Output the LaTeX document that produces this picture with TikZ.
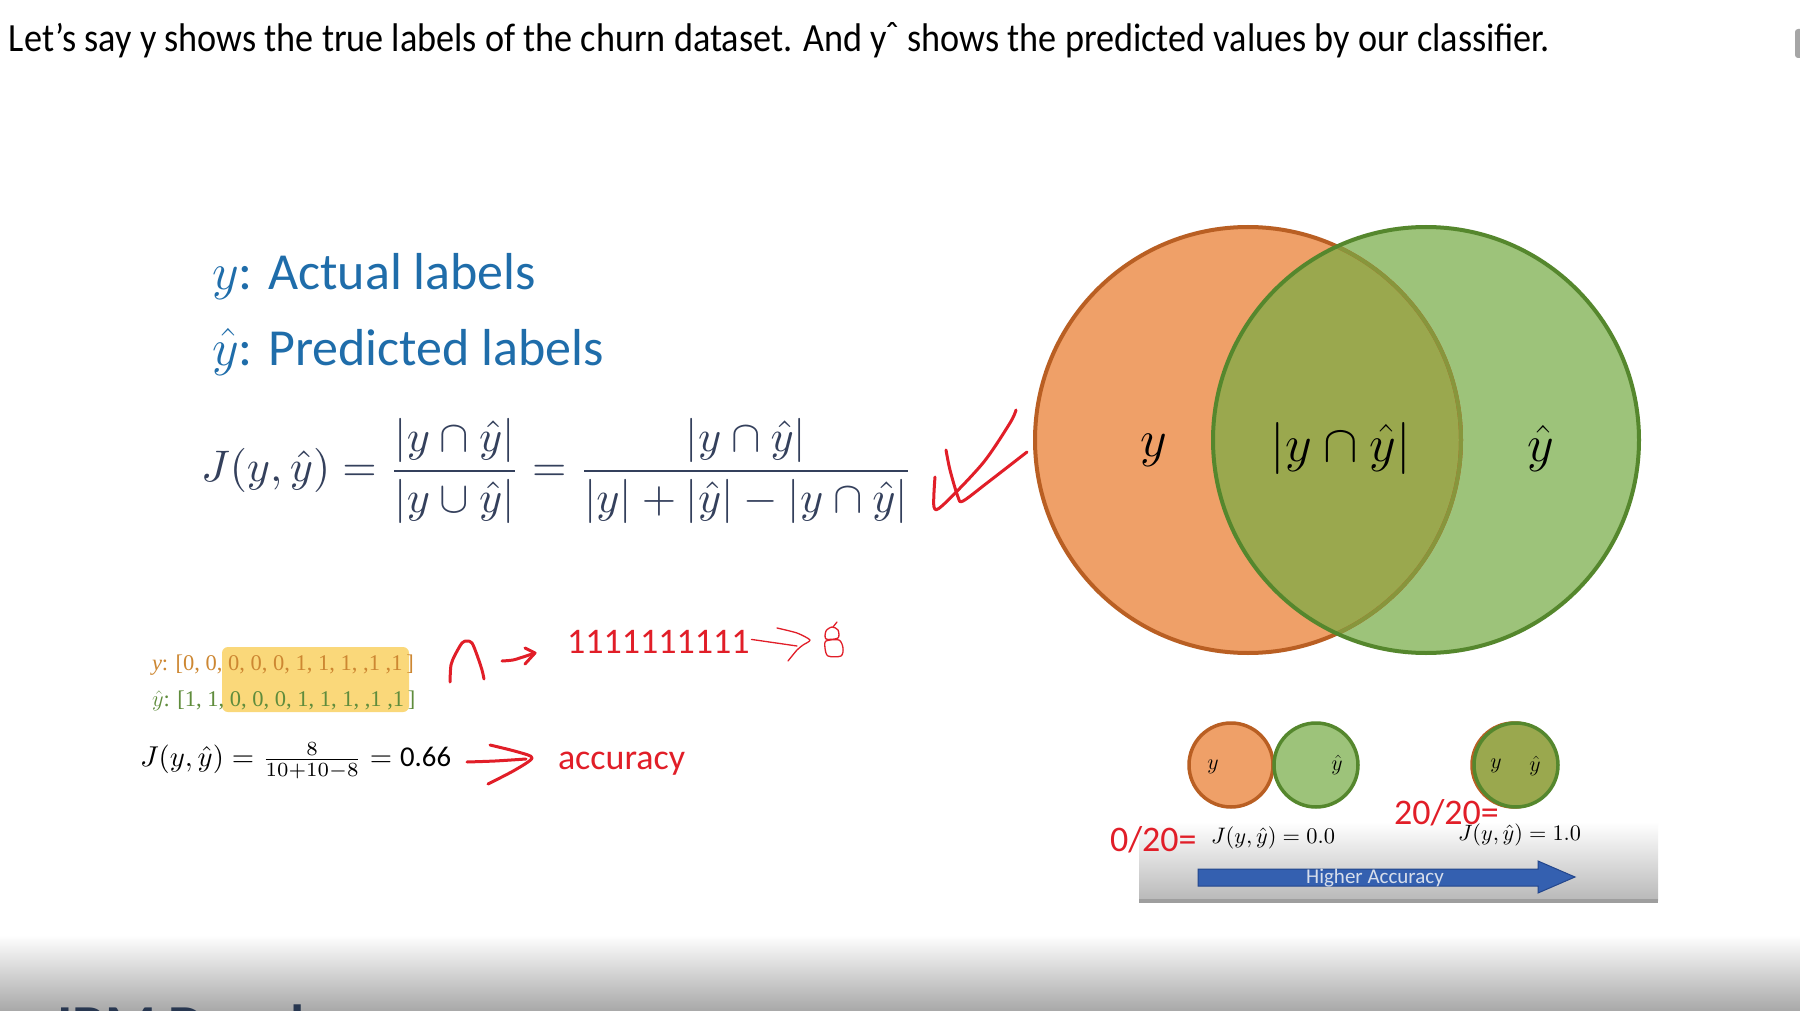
\RequirePackage{fix-cm}
\documentclass[tikz,border=0pt]{standalone}
\usepackage{fontspec}
\setmainfont{Carlito}
\newfontfamily\listfont{Liberation Serif}
\usepackage{graphicx}
\definecolor{ttlblue}{RGB}{31,109,170}
\definecolor{fmla}{RGB}{52,64,92}
\definecolor{redink}{RGB}{225,30,40}
\definecolor{orfill}{RGB}{239,160,104}
\definecolor{orline}{RGB}{185,95,35}
\definecolor{grfill}{RGB}{157,195,122}
\definecolor{grline}{RGB}{85,135,45}
\definecolor{lensfill}{RGB}{154,168,78}
\definecolor{lensline}{RGB}{135,150,60}
\definecolor{hilite}{RGB}{250,216,122}
\definecolor{ylist}{RGB}{205,135,50}
\definecolor{yhlist}{RGB}{95,140,60}
\definecolor{barblue}{RGB}{52,96,176}
\definecolor{barline}{RGB}{35,70,140}
\definecolor{bartext}{RGB}{215,222,235}
\definecolor{ibmtext}{RGB}{40,55,80}
\definecolor{pagegray}{RGB}{168,168,168}
\definecolor{boxgray}{RGB}{185,185,185}
\definecolor{boxedge}{RGB}{158,158,158}
\begin{document}
\begin{tikzpicture}[x=1pt,y=-1pt,
  ink/.style={draw=redink, line width=3pt, line cap=round, line join=round},
  thinink/.style={draw=redink, line width=1.3pt, line cap=round, line join=round},
  txt/.style={inner sep=0pt, outer sep=0pt},
  venntxt/.style={txt, font=\fontsize{52}{60}\selectfont},
  smalltxt/.style={txt, font=\fontsize{22}{26}\selectfont},
  redtxt/.style={txt, text=redink, font=\fontsize{36}{42}\selectfont},
  listtxt/.style={txt, anchor=base west, font=\listfont\fontsize{22.5}{26}\selectfont}]
\useasboundingbox (0,0) rectangle (1800,1011);
\fill[white] (0,0) rectangle (1800,1011);
% bottom page gradient
\shade[top color=white, bottom color=pagegray] (0,935) rectangle (1800,1011);
\begin{scope}
\clip (0,935) rectangle (1800,1011);
\node[txt, anchor=north west, text=ibmtext, font=\fontsize{58}{66}\selectfont\bfseries] (ibm) at (57,1005) {IBM Developer};
\end{scope}
% scrollbar stub
\fill[gray!70, rounded corners=3pt] (1795,29) rectangle (1806,58);
% title
\node[txt, anchor=base west, font=\fontsize{40}{48}\selectfont] (title) at (9,52)
  {\resizebox{1541pt}{\height}{Let’s say y shows the true labels of the churn dataset. And y\kern-.05em\raisebox{.05em}{ˆ} shows the predicted values by our classifier.}};
% blue labels
\node[txt, anchor=base west, text=ttlblue, font=\fontsize{52}{60}\selectfont] (lbly) at (212,290) {$y$: Actual labels};
\node[txt, anchor=base west, text=ttlblue, font=\fontsize{52}{60}\selectfont] (lblyh) at (212,365) {$\hat{y}$: Predicted labels};
% main formula
\node[txt, anchor=west, text=fmla] (jac) at (201,471)
  {\resizebox{712pt}{!}{$\displaystyle J(y,\hat y)=\frac{|y\cap\hat y|}{|y\cup\hat y|}=\frac{|y\cap\hat y|}{|y|+|\hat y|-|y\cap\hat y|}$}};
% check mark
\draw[ink] plot[smooth, tension=0.5] coordinates {(935,477) (934,507) (943,505) (983,463) (1010,423) (1016,410)};
\draw[ink] plot[smooth, tension=0.5] coordinates {(946,450) (950,470) (958,497) (963,501) (987,483) (1027,452)};
% lists
\fill[hilite, rounded corners=6pt] (222,647) rectangle (409,712);
\node[listtxt, text=ylist] (ylst) at (152,670)
  {\textit{y}: [0, 0, 0, 0, 0, 1, 1, 1, ,1 ,1\,]};
\node[listtxt, text=yhlist] (yhlst) at (152,706)
  {$\hat{y}$: [1, 1, 0, 0, 0, 1, 1, 1, ,1 ,1\,]};
% handwriting: cap and arrow
\draw[ink] plot[smooth] coordinates {(450,682) (451,665) (455,655) (462,643) (467,641) (472,643) (477,655) (482,670) (484,679)};
\draw[ink] plot[smooth] coordinates {(502,661) (513,660) (523,657) (535,653)};
\draw[ink] (525,648) -- (535,653) -- (525,664);
\node[redtxt, anchor=base west] (ones) at (567,653) {1111111111};
\draw[thinink] (ones.east) ++(2,-2) coordinate (oa) -- (797,646);
\draw[thinink] plot[smooth, tension=0.4] coordinates {(777,628) (797,633) (810,640) (803,645) (797,650) (788,661)};
% handwritten 8
\draw[thinink] plot[smooth cycle] coordinates {(826,639) (826,631) (832,627) (838,630) (838,638)};
\draw[thinink] plot[smooth cycle] coordinates {(826,641) (839,640) (843,648) (841,656) (828,656) (825,648)};
\draw[thinink] (833,627) -- (837,622);
% second formula
\node[txt, anchor=west] (jac2) at (140,761)
  {\resizebox{311pt}{!}{$J(y,\hat y)=\frac{8}{10+10-8}=\mbox{0.66}$}};
\draw[ink] plot[smooth] coordinates {(467,762) (495,761) (526,759)};
\draw[ink] plot[smooth, tension=0.5] coordinates {(490,745) (518,752) (532,758) (515,770) (488,784)};
\node[redtxt, anchor=base west] (acc) at (558,769) {accuracy};
% big Venn
\coordinate (oc) at (1248,440);
\coordinate (gc) at (1426,440);
\fill[orfill] (oc) circle (213pt);
\fill[grfill] (gc) circle (213pt);
\begin{scope}
\clip (oc) circle (213pt);
\fill[lensfill] (gc) circle (213pt);
\end{scope}
\draw[orline, line width=4pt] (oc) circle (213pt);
\begin{scope}
\clip (gc) circle (213pt);
\draw[lensline, line width=4pt] (oc) circle (213pt);
\end{scope}
\draw[grline, line width=4pt] (gc) circle (213pt);
\node[venntxt] (vy) at (1154,450) {$y$};
\node[venntxt] (vi) at (1341,448) {$|y\cap\hat y|$};
\node[venntxt] (vyh) at (1541,448) {$\hat y$};
% gradient box
\shade[top color=white, bottom color=boxgray] (1139,822) rectangle (1658,900);
\fill[boxedge] (1139,899) rectangle (1658,903);
% small Venns
\fill[orfill] (1231,765) circle (42pt);
\draw[orline, line width=3.5pt] (1231,765) circle (42pt);
\fill[grfill] (1316,765) circle (42pt);
\draw[grline, line width=3.5pt] (1316,765) circle (42pt);
\draw[orline, line width=3.5pt] (1514,765) circle (42pt);
\fill[lensfill] (1516,765) circle (42pt);
\draw[grline, line width=3.5pt] (1516,765) circle (42pt);
\node[smalltxt] (sy) at (1213,767) {$y$};
\node[smalltxt] (syh) at (1337,765) {$\hat y$};
\node[smalltxt] (cy) at (1496,766) {$y$};
\node[smalltxt] (cyh) at (1535,766) {$\hat y$};
\node[txt, anchor=west] (j0) at (1211,838) {\resizebox{124pt}{!}{$J(y,\hat y)=0.0$}};
\node[txt, anchor=west] (j1) at (1458,835) {\resizebox{123pt}{!}{$J(y,\hat y)=1.0$}};
\node[redtxt, anchor=base west] (r0) at (1110,851) {0/20=};
\node[redtxt, anchor=base west] (r1) at (1394,824) {20/20=};
% higher accuracy arrow
\draw[fill=barblue, draw=barline, line width=1pt]
  (1198,869) -- (1538,869) -- (1538,861) -- (1575,877) -- (1538,893) -- (1538,886) -- (1198,886) -- cycle;
\node[txt, text=bartext, font=\fontsize{21}{24}\selectfont] (hacc) at (1375,878) {Higher Accuracy};
\end{tikzpicture}
\end{document}
